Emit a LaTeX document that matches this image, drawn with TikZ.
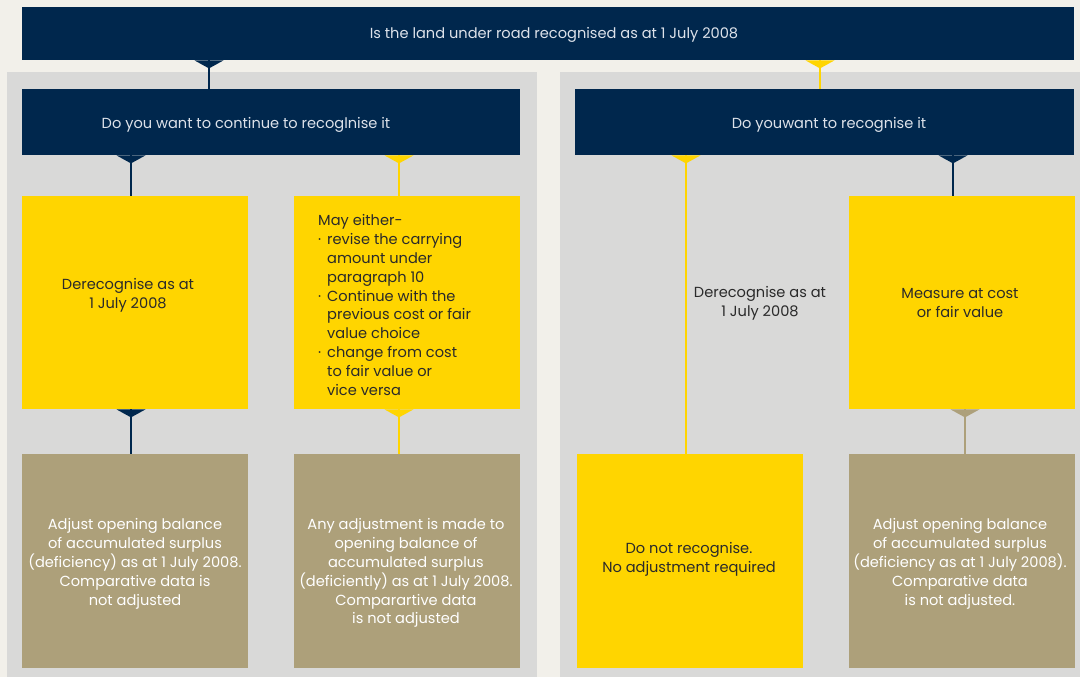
\documentclass[tikz,border=0pt]{standalone}
\usepackage{fontspec}
\setmainfont{Poppins}
\usetikzlibrary{calc}
\definecolor{navy}{HTML}{00274D}
\definecolor{ey}{HTML}{FFD500}
\definecolor{tan}{HTML}{ADA07A}
\definecolor{panel}{HTML}{D9D9D8}
\definecolor{cream}{HTML}{F2F0EA}
\definecolor{navytext}{HTML}{DDE2EA}
\definecolor{darktext}{HTML}{2A2A2A}
\newcommand\linkto[4]{%
  \coordinate (k#4) at (#2,0);
  \coordinate (s#4) at (#3.south -| k#4);
  \coordinate (e#4) at (#4.north -| k#4);
  \fill[#1] ($(s#4)+(-14.5,0)$) -- ($(s#4)+(14.5,0)$) -- ($(s#4)+(0,8)$) -- cycle;
  \draw[#1,line width=1.7pt] (s#4) -- (e#4);
}
\newcommand\bul{\makebox[9pt][l]{·}}
\newcommand\ind{\hspace*{9pt}}
\begin{document}
\begin{tikzpicture}[x=1pt,y=-1pt,
  box/.style={rectangle,inner sep=0pt,anchor=north west,draw=none},
  txt/.style={font=\fontsize{14.6}{18.9}\selectfont,align=center,inner sep=0pt},
  ntxt/.style={txt,text=navytext},
  ytxt/.style={txt,text=darktext},
  ttxt/.style={txt,text=white}]
\useasboundingbox (0,0) rectangle (1080,677);
\fill[cream] (0,0) rectangle (1080,677);
\fill[panel] (7,72) rectangle (537,677);
\fill[panel] (560,72) rectangle (1080,677);

\node[box,fill=navy,minimum width=1052pt,minimum height=53pt] (top) at (22,7) {};
\node[box,fill=navy,minimum width=498pt,minimum height=66pt] (lq) at (22,89) {};
\node[box,fill=navy,minimum width=499pt,minimum height=66pt] (rq) at (575,89) {};
\node[box,fill=ey,minimum width=226pt,minimum height=213pt] (Y1) at (22,196) {};
\node[box,fill=ey,minimum width=226pt,minimum height=213pt] (Y2) at (294,196) {};
\node[box,fill=ey,minimum width=226pt,minimum height=213pt] (Y4) at (849,196) {};
\node[box,fill=tan,minimum width=226pt,minimum height=214pt] (T1) at (22,454) {};
\node[box,fill=tan,minimum width=226pt,minimum height=214pt] (T2) at (294,454) {};
\node[box,fill=ey,minimum width=226pt,minimum height=214pt] (Y3) at (577,454) {};
\node[box,fill=tan,minimum width=226pt,minimum height=214pt] (T3) at (849,454) {};

\linkto{navy}{209}{top}{lq}
\linkto{ey}{820}{top}{rq}
\linkto{navy}{131}{lq}{Y1}
\linkto{ey}{399}{lq}{Y2}
\linkto{navy}{131}{Y1}{T1}
\linkto{ey}{399}{Y2}{T2}
\linkto{ey}{686}{rq}{Y3}
\linkto{navy}{953}{rq}{Y4}
\linkto{tan}{965}{Y4}{T3}

\node[ntxt] (ttop) at (554,35) {Is the land under road recognised as at 1 July 2008};
\node[ntxt] (tlq) at (246,125) {Do you want to continue to recoglnise it};
\node[ntxt] (trq) at (829,125) {Do youwant to recognise it};
\node[ytxt] (tY1) at (128,295) {Derecognise as at\\1 July 2008};
\node[ytxt,align=left,anchor=west] (tY2) at (318,305) {May either-\\
\bul revise the carrying\\ \ind amount under\\ \ind paragraph 10\\
\bul Continue with the\\ \ind previous cost or fair\\ \ind value choice\\
\bul change from cost\\ \ind to fair value or\\ \ind vice versa};
\node[ytxt] (tder) at (760,303) {Derecognise as at\\1 July 2008};
\node[ytxt] (tY4) at (960,303) {Measure at cost\\or fair value};
\node[ttxt] (tT1) at (135,564) {Adjust opening balance\\of accumulated surplus\\(deficiency) as at 1 July 2008.\\Comparative data is\\not adjusted};
\node[ttxt] (tT2) at (406,573) {Any adjustment is made to\\opening balance of\\accumulated surplus\\(deficiently) as at 1 July 2008.\\Comparartive data\\is not adjusted};
\node[ytxt] (tY3) at (689,559) {Do not recognise.\\No adjustment required};
\node[ttxt] (tT3) at (960,564) {Adjust opening balance\\of accumulated surplus\\(deficiency as at 1 July 2008).\\Comparative data\\is not adjusted.};
\end{tikzpicture}
\end{document}
